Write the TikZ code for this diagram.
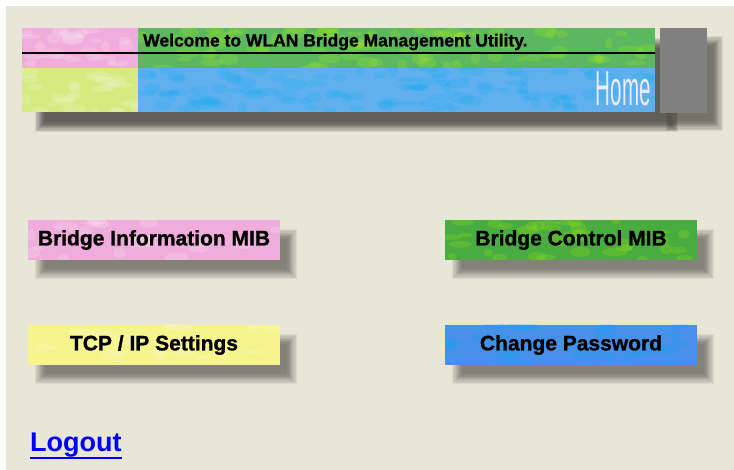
\documentclass[tikz,border=0pt]{standalone}
\usepackage{fontspec}
\setmainfont{Liberation Sans}
\newfontfamily\heavy{Liberation Sans}[UprightFont=* Bold, FakeBold=1.2]
\usetikzlibrary{positioning,calc}

\definecolor{paper}{RGB}{232,230,214}
\definecolor{pinkish}{RGB}{240,172,220}
\definecolor{limeish}{RGB}{214,234,128}
\definecolor{leaf}{RGB}{92,184,96}
\definecolor{sky}{RGB}{96,176,238}
\definecolor{lemon}{RGB}{246,244,140}
\definecolor{grass}{RGB}{72,172,64}
\definecolor{ocean}{RGB}{72,144,234}
\definecolor{slab}{RGB}{128,128,128}

\pgfdeclarelayer{paperlayer}
\pgfdeclarelayer{haze}
\pgfsetlayers{paperlayer,haze,main}

\begin{document}
\begin{tikzpicture}[
  x=1pt, y=-1pt,
  tile/.style={inner sep=0pt, outer sep=0pt, anchor=north west},
  mottle/.style n args={4}{path picture={
    \foreach \j in {1,...,#3}
      \fill[#4, opacity=0.16] ($(path picture bounding box.north west)+(rnd*#1, rnd*#2)$) ellipse ({4+rnd*9} and {2+rnd*4});}},
  button/.style={tile, minimum width=252pt, minimum height=40pt, font=\fontsize{21}{24}\heavy},
  link/.style={inner sep=0pt, anchor=west, text=blue, font=\fontsize{27}{30}\selectfont\bfseries}
]
\useasboundingbox (0,0) rectangle (734,470);
\pgfmathsetseed{7}

% Banner
\node[tile, fill=slab, minimum width=47pt, minimum height=85pt] (slab) at (660,28) {};
\node[tile, fill=sky, minimum width=633pt, minimum height=84pt] (banner) at (22,28) {};
\node[tile, fill=pinkish, mottle={116}{40}{25}{white}, minimum width=116pt, minimum height=40pt] (pink) at (22,28) {};
\node[tile, fill=limeish, mottle={116}{44}{25}{white}, minimum width=116pt, minimum height=44pt] (lime) at (22,68) {};
\node[tile, fill=leaf, mottle={517}{40}{90}{lime}, minimum width=517pt, minimum height=40pt] (green) at (138,28) {};
\node[tile, fill=sky, mottle={517}{44}{110}{cyan}, minimum width=517pt, minimum height=44pt] (blue) at (138,68) {};
\draw[line width=2pt] (pink.west |- 0,53) -- (green.east |- 0,53);
\node[anchor=west, inner sep=0pt, font=\fontsize{17.5}{20}\heavy] (welcome) at (143,42)
  {Welcome to WLAN Bridge Management Utility.};
\node[anchor=south east, inner sep=0pt, text=white!92!blue, font=\fontsize{49}{50}\selectfont] (home) at (651,106)
  {\scalebox{0.42}[1]{Home}};

% Row 1
\node[button, fill=pinkish, mottle={252}{40}{20}{white}] (info) at (28,220) {Bridge Information MIB};
\node[button, fill=grass, mottle={252}{40}{40}{lime}] (control) at (445,220) {Bridge Control MIB};

% Row 2
\node[button, fill=lemon, mottle={252}{40}{20}{white}] (tcpip) at (28,325) {TCP / IP Settings};
\node[button, fill=ocean, mottle={252}{40}{40}{cyan}] (passwd) at (445,325) {Change Password};

% Logout
\node[link] (logout) at (30,445) {Logout};
\draw[blue, line width=2pt] ([yshift=-1pt]logout.south west) -- ([yshift=-1pt]logout.south east);

% shadows
\begin{pgfonlayer}{haze}
  \foreach \n/\dx/\dy/\o in {banner/18/15/0.09, slab/11/13/0.07, info/12/14/0.06, control/12/14/0.06,
      tcpip/12/14/0.06, passwd/12/14/0.06}
    \foreach \i in {0,...,8}
      \fill[black, opacity=\o] ($(\n.north west)+(\dx-5+1.2*\i,\dy-5+1.2*\i)$) rectangle ($(\n.south east)+(\dx+5-1.2*\i,\dy+5-1.2*\i)$);
\end{pgfonlayer}
\begin{pgfonlayer}{paperlayer}
  \fill[white] (0,0) rectangle (734,470);
  \fill[paper] (6,6) rectangle (734,470);
\end{pgfonlayer}

\end{tikzpicture}
\end{document}
